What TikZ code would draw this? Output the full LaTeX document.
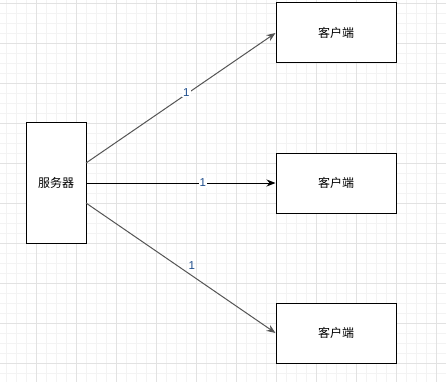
\documentclass[tikz,border=0pt]{standalone}
\usepackage{fontspec}
\newfontfamily\cjk{Noto Sans CJK SC}
\setmainfont{Liberation Sans}
\usetikzlibrary{arrows.meta}
\definecolor{gridminor}{HTML}{F3F3F3}
\definecolor{gridmajor}{HTML}{E2E2E2}
\definecolor{linegrey}{HTML}{555555}
\definecolor{labelblue}{HTML}{1F4E8C}
\begin{document}
\begin{tikzpicture}[x=1pt,y=-1pt,
  box/.style={draw=black,line width=1pt,fill=white,inner sep=0pt,font=\cjk\fontsize{12}{14}\selectfont},
  conn/.style={line width=1pt,-{Stealth[length=9pt,width=7pt]}},
  lbl/.style={font=\fontsize{11.5}{13}\selectfont,text=labelblue,inner sep=1pt}]
\useasboundingbox (0,0) rectangle (446,382);
\fill[white] (0,0) rectangle (446,382);
\foreach \x in {6,16,...,446} \draw[gridminor,line width=0.6pt] (\x,0) -- (\x,382);
\foreach \y in {3,13,...,382} \draw[gridminor,line width=0.6pt] (0,\y) -- (446,\y);
\foreach \x in {36,76,...,446} \draw[gridmajor,line width=0.8pt] (\x,0) -- (\x,382);
\foreach \y in {3,43,...,382} \draw[gridmajor,line width=0.8pt] (0,\y) -- (446,\y);
\node[box,minimum width=60pt,minimum height=120pt] (srv) at (56,183) {服务器};
\node[box,minimum width=120pt,minimum height=60pt] (c1) at (336,33) {客户端};
\node[box,minimum width=120pt,minimum height=60pt] (c2) at (336,183) {客户端};
\node[box,minimum width=120pt,minimum height=60pt] (c3) at (336,333) {客户端};
\coordinate (s1) at (86,163);
\coordinate (s3) at (86,203);
\draw[conn,draw=linegrey] (s1) -- (c1.west) node[pos=0.53,lbl,fill=white,yshift=2pt] {1};
\draw[conn,draw=black] (srv.east) -- (c2.west) node[pos=0.616,lbl,fill=white] {1};
\draw[conn,draw=linegrey] (s3) -- (c3.west) node[pos=0.558,lbl,yshift=9.5pt] {1};
\end{tikzpicture}
\end{document}
